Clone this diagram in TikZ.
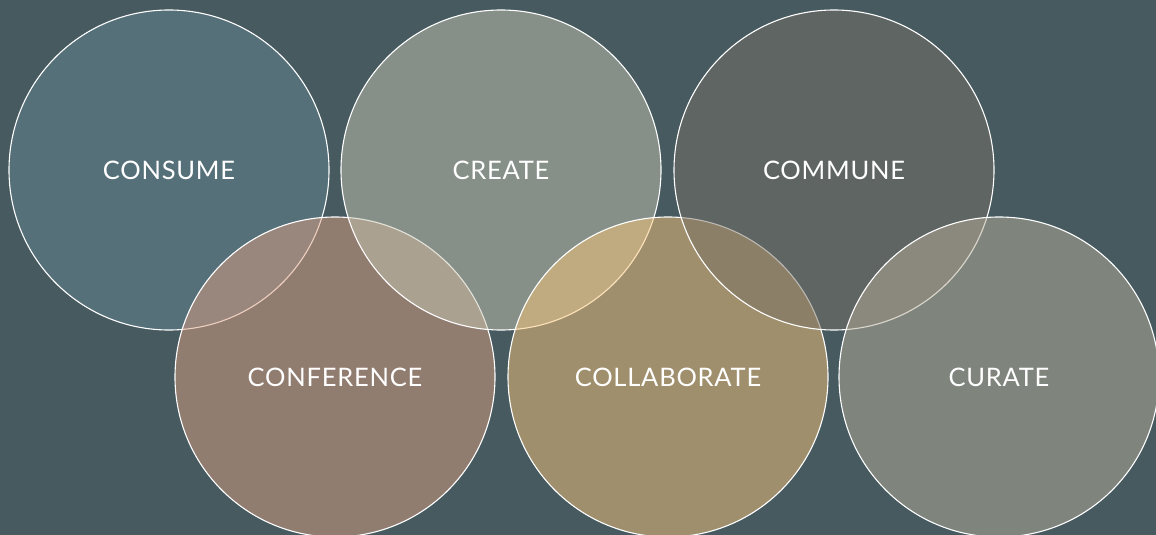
\documentclass[tikz,border=0pt]{standalone}
\usepackage{fontspec}
\setmainfont{Lato}
\newfontfamily\bubblefont[LetterSpace=3]{Lato}
\definecolor{bgc}{RGB}{70,90,96}
\definecolor{cconsume}{RGB}{102,134,148}
\definecolor{cconference}{RGB}{220,158,128}
\definecolor{ccreate}{RGB}{198,198,178}
\definecolor{ccollab}{RGB}{250,196,120}
\definecolor{ccommune}{RGB}{120,112,100}
\definecolor{ccurate}{RGB}{184,174,154}
\tikzset{
  bubble/.style={circle, draw=white, line width=1.1pt, fill opacity=0.5, text opacity=1,
    minimum size=320pt, inner sep=0pt, text=white, font=\bubblefont\fontsize{25.5}{25.5}\selectfont},
}
\begin{document}
\begin{tikzpicture}[x=1pt,y=-1pt]
\fill[bgc] (0,0) rectangle (1156,535);
\useasboundingbox (0,0) rectangle (1156,535);
\node[bubble, fill=cconsume] (consume) at (169,170) {CONSUME};
\node[bubble, fill=cconference] (conference) at (335,377) {CONFERENCE};
\node[bubble, fill=ccreate] (create) at (501,170) {CREATE};
\node[bubble, fill=ccollab] (collaborate) at (668,377) {COLLABORATE};
\node[bubble, fill=ccommune] (commune) at (834,170) {COMMUNE};
\node[bubble, fill=ccurate] (curate) at (999,377) {CURATE};
\end{tikzpicture}
\end{document}
